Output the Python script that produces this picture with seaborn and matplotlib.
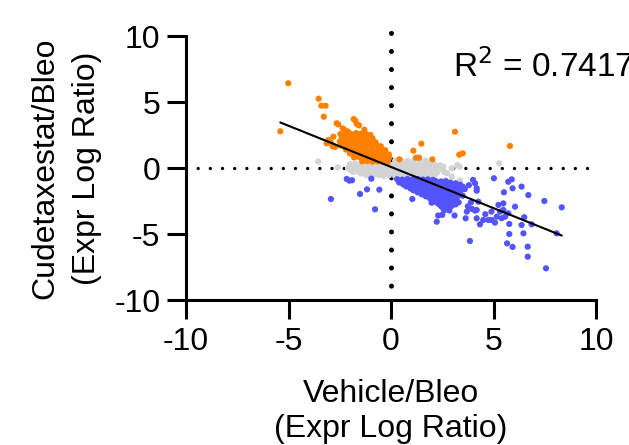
#!/usr/bin/env python3
"""Cudetaxestat/Bleo vs Vehicle/Bleo expression log ratio scatter."""

import matplotlib as mpl
mpl.use("Agg")
import matplotlib.pyplot as plt
import pandas as pd
import seaborn as sns

# (Vehicle/Bleo, Cudetaxestat/Bleo) log ratios
ORANGE = [
    (-5.40, 2.78), (-5.01, 6.42), (-3.53, 5.25), (-3.40, 4.72), (-3.19, 4.72), (-3.28, 3.89),
    (-2.65, 3.39), (-2.57, 3.30), (-1.82, 3.71), (-1.74, 3.58), (-1.56, 3.23), (-1.67, 3.33),
    (-2.35, 3.00), (-2.22, 2.85), (-2.10, 2.75), (-2.47, 2.58), (-2.36, 2.50), (-2.81, 2.37),
    (-3.06, 2.12), (-2.94, 1.95), (-2.85, 1.64), (-2.72, 1.60), (-3.14, 1.87), (-1.30, 2.90),
    (1.48, 1.84), (1.09, 1.31), (1.22, 0.78), (1.37, 0.78), (0.41, 0.66), (2.02, 0.66),
    (3.12, 2.75), (5.80, 1.67), (3.33, 1.01), (3.50, 1.11),
    # dense cluster
    (-2.20, 2.62), (-1.95, 2.58), (-1.70, 2.65), (-1.45, 2.60), (-1.20, 2.56), (-1.00, 2.50),
    (-2.40, 2.30), (-2.15, 2.33), (-1.90, 2.27), (-1.65, 2.32), (-1.40, 2.28), (-1.15, 2.31), (-0.90, 2.25),
    (-2.50, 2.00), (-2.25, 1.97), (-2.00, 2.03), (-1.75, 1.98), (-1.50, 2.02), (-1.25, 1.96), (-1.00, 2.01), (-0.75, 1.95),
    (-2.45, 1.70), (-2.20, 1.73), (-1.95, 1.68), (-1.70, 1.72), (-1.45, 1.69), (-1.20, 1.71), (-0.95, 1.67), (-0.70, 1.72), (-0.50, 1.65),
    (-2.20, 1.40), (-1.95, 1.43), (-1.70, 1.38), (-1.45, 1.41), (-1.20, 1.37), (-0.95, 1.42), (-0.70, 1.39), (-0.45, 1.41), (-0.28, 1.35),
    (-2.00, 1.10), (-1.75, 1.12), (-1.50, 1.08), (-1.25, 1.11), (-1.00, 1.09), (-0.75, 1.12), (-0.50, 1.07), (-0.30, 1.10), (-0.10, 1.02),
    (-1.80, 0.80), (-1.55, 0.82), (-1.30, 0.78), (-1.05, 0.81), (-0.80, 0.79), (-0.55, 0.82), (-0.30, 0.78), (-0.10, 0.75),
    (-1.40, 0.50), (-1.15, 0.52), (-0.90, 0.48), (-0.65, 0.51), (-0.40, 0.47), (-0.15, 0.45),
]

GREY = [
    (-3.55, 0.48), (-2.60, 0.05), (2.55, 0.10), (2.96, -0.02), (3.23, 0.23), (3.35, 0.10),
    (2.73, -0.40), (2.96, -0.66), (3.37, -0.95), (2.63, -0.95), (5.28, 0.35),
    # left cluster
    (-2.00, 0.30), (-1.75, 0.33), (-1.50, 0.28), (-1.25, 0.31), (-1.00, 0.29), (-0.75, 0.32), (-0.50, 0.28), (-0.25, 0.30), (-0.08, 0.27),
    (-1.88, 0.15), (-1.62, 0.17), (-1.38, 0.13), (-1.12, 0.16), (-0.88, 0.14), (-0.62, 0.17), (-0.38, 0.13), (-0.15, 0.15),
    (-2.10, 0.00), (-1.85, 0.02), (-1.60, -0.03), (-1.35, 0.01), (-1.10, -0.02), (-0.85, 0.03), (-0.60, -0.01), (-0.35, 0.02), (-0.10, -0.03),
    (-1.98, -0.15), (-1.72, -0.17), (-1.48, -0.13), (-1.22, -0.16), (-0.98, -0.14), (-0.72, -0.18), (-0.48, -0.15), (-0.22, -0.16),
    (-1.85, -0.30), (-1.60, -0.28), (-1.35, -0.32), (-1.10, -0.29), (-0.85, -0.31), (-0.60, -0.28), (-0.35, -0.33), (-0.10, -0.30),
    (-1.45, -0.43), (-1.05, -0.45), (-0.75, -0.42), (-0.48, -0.46), (-0.22, -0.44),
    (-1.20, -0.55), (-0.90, -0.58), (-0.60, -0.54), (-0.35, -0.60), (-0.10, -0.56),
    # right cluster
    (0.20, 0.55), (0.50, 0.58), (0.80, 0.53), (1.10, 0.57), (1.40, 0.52), (1.70, 0.56), (2.00, 0.50),
    (0.15, 0.25), (0.40, 0.28), (0.65, 0.23), (0.90, 0.27), (1.15, 0.24), (1.40, 0.26), (1.65, 0.22), (1.90, 0.27), (2.15, 0.24), (2.40, 0.20),
    (0.15, -0.05), (0.40, -0.02), (0.65, -0.07), (0.90, -0.03), (1.15, -0.06), (1.40, -0.02), (1.65, -0.05), (1.90, -0.08), (2.15, -0.04), (2.45, -0.06),
    (0.15, -0.35), (0.40, -0.33), (0.65, -0.37), (0.90, -0.34), (1.15, -0.36), (1.40, -0.33), (1.65, -0.38), (1.95, -0.35), (2.25, -0.37), (2.60, -0.30),
    (0.20, -0.60), (0.45, -0.62), (0.70, -0.58), (0.95, -0.61), (1.20, -0.63), (1.50, -0.60), (1.80, -0.64), (2.10, -0.66),
]

BLUE = [
    (-2.93, -2.35), (-2.16, -0.83), (-2.03, -0.96), (-1.90, -0.93), (-1.51, -1.97), (-1.17, -1.62),
    (-0.96, -0.81), (-0.57, -1.64), (-0.78, -3.13), (1.04, -2.35), (2.23, -4.07), (3.85, -5.53),
    (5.02, -0.78), (5.72, -1.04), (5.89, -0.86), (5.51, -1.84), (5.93, -1.54), (6.37, -1.41),
    (6.70, -2.05), (7.48, -2.50), (8.33, -2.98), (5.24, -2.80), (5.48, -2.68), (6.05, -2.93),
    (5.72, -3.43), (5.56, -3.69), (5.40, -3.81), (5.32, -3.31), (5.48, -3.18), (6.50, -3.73),
    (5.77, -4.24), (6.37, -4.32), (6.46, -4.95), (6.86, -4.27), (8.08, -4.95), (5.77, -5.00),
    (5.66, -5.71), (5.93, -5.98), (6.67, -5.96), (6.67, -6.72), (7.56, -7.60),
    (4.34, -4.27), (4.50, -3.94), (4.91, -3.94), (5.07, -4.14), (4.18, -3.81), (4.75, -3.94),
    (5.16, -3.69), (4.10, -3.23), (3.64, -3.81),
    (4.00, -0.90), (4.10, -1.16), (4.18, -1.54), (4.18, -1.72), (4.26, -2.55), (4.18, -3.18),
    (3.90, -2.60), (3.95, -3.10), (3.70, -3.30), (3.75, -2.90), (4.60, -3.50), (4.90, -3.30),
    (3.50, -2.10), (3.60, -1.60), (3.80, -1.30), (1.98, -2.63), (2.30, -3.60), (2.50, -3.55),
    (3.10, -3.60), (3.30, -2.60),
    # dense cluster
    (0.30, -0.85), (0.55, -0.88), (0.80, -0.83), (1.05, -0.87), (1.30, -0.84), (1.55, -0.88), (1.80, -0.86), (2.05, -0.90),
    (0.42, -0.97), (0.68, -0.99), (0.93, -0.96), (1.18, -0.98), (1.43, -1.00), (1.68, -0.97), (1.93, -1.01),
    (2.18, -0.99), (2.43, -1.02), (2.68, -1.00),
    (0.40, -1.10), (0.65, -1.13), (0.90, -1.08), (1.15, -1.12), (1.40, -1.09), (1.65, -1.13), (1.90, -1.10),
    (2.15, -1.12), (2.40, -1.08), (2.65, -1.14), (2.90, -1.11), (3.15, -1.16),
    (0.60, -1.25), (0.87, -1.27), (1.12, -1.23), (1.37, -1.26), (1.62, -1.24), (1.87, -1.28),
    (2.12, -1.25), (2.37, -1.22), (2.62, -1.27), (2.87, -1.25), (3.12, -1.29), (3.37, -1.26),
    (0.75, -1.40), (1.00, -1.43), (1.25, -1.38), (1.50, -1.42), (1.75, -1.39), (2.00, -1.44),
    (2.25, -1.40), (2.50, -1.37), (2.75, -1.42), (3.00, -1.40), (3.25, -1.45), (3.50, -1.41),
    (0.95, -1.55), (1.20, -1.58), (1.45, -1.53), (1.70, -1.56), (1.95, -1.54), (2.20, -1.57),
    (2.45, -1.55), (2.70, -1.52), (2.95, -1.57), (3.20, -1.55), (3.45, -1.58),
    (1.10, -1.70), (1.35, -1.73), (1.60, -1.68), (1.85, -1.72), (2.10, -1.69), (2.35, -1.73),
    (2.60, -1.70), (2.85, -1.67), (3.10, -1.72), (3.40, -1.70),
    (1.30, -1.85), (1.55, -1.88), (1.80, -1.84), (2.05, -1.86), (2.30, -1.83), (2.55, -1.87),
    (2.80, -1.85), (3.05, -1.88), (3.35, -1.84),
    (1.50, -2.00), (1.75, -2.03), (2.00, -1.98), (2.25, -2.02), (2.50, -1.99), (2.75, -2.03), (3.00, -2.00), (3.30, -2.04),
    (1.70, -2.15), (1.95, -2.17), (2.20, -2.13), (2.45, -2.16), (2.70, -2.14), (2.95, -2.18), (3.20, -2.15),
    (1.90, -2.30), (2.15, -2.33), (2.40, -2.28), (2.65, -2.32), (2.90, -2.29), (3.20, -2.31),
    (2.05, -2.45), (2.30, -2.47), (2.55, -2.43), (2.80, -2.46), (3.10, -2.44),
    (2.20, -2.60), (2.45, -2.63), (2.70, -2.58), (3.00, -2.62),
    (2.35, -2.75), (2.60, -2.77), (2.85, -2.73), (3.15, -2.76),
    (2.45, -2.90), (2.70, -2.93), (2.95, -2.88),
    (2.55, -3.05), (2.80, -3.07),
    (2.60, -3.20), (2.85, -3.22),
]

COLORS = {"grey": "#D3D3D3", "blue": "#5454FF", "orange": "#FF8000"}


def build_frame() -> pd.DataFrame:
    parts = []
    for name, pts in (("grey", GREY), ("blue", BLUE), ("orange", ORANGE)):
        part = pd.DataFrame(pts, columns=["vehicle", "cudetaxestat"])
        part["group"] = name
        parts.append(part)
    return pd.concat(parts, ignore_index=True)


def main() -> None:
    df = build_frame()

    sns.set_theme(style="ticks")
    mpl.rcParams.update({
        "font.family": ["Liberation Sans", "DejaVu Sans"],
        "axes.unicode_minus": False,
        "axes.linewidth": 2.2,
        "xtick.major.width": 2.2,
        "ytick.major.width": 2.2,
        "xtick.major.size": 13.5,
        "ytick.major.size": 13.5,
        "xtick.major.pad": 6,
        "ytick.major.pad": 5,
        "xtick.color": "black",
        "ytick.color": "black",
        "axes.edgecolor": "black",
        "text.color": "black",
        "axes.labelcolor": "black",
    })

    fig = plt.figure(figsize=(6.29, 4.45), dpi=100)
    ax = fig.add_axes([186 / 629, 1 - 300 / 445, 410 / 629, 264 / 445])

    ax.axhline(0, color="black", lw=2.4, ls=(0.15, (0.01, 3.64)), dash_capstyle="round", zorder=1)
    ax.axvline(0, ymax=1.015, color="black", lw=3.6, ls=(0.74, (0.01, 3.6)),
               dash_capstyle="round", zorder=1, clip_on=False)

    sns.scatterplot(data=df, x="vehicle", y="cudetaxestat", hue="group", palette=COLORS,
                    s=20, linewidth=0, legend=False, ax=ax, zorder=2)
    sns.regplot(data=df, x="vehicle", y="cudetaxestat", scatter=False, ci=None,
                color="black", line_kws={"lw": 1.5, "zorder": 3}, ax=ax)

    ax.set_xlim(-10, 10)
    ax.set_ylim(-10, 10)
    ax.set_xticks([-10, -5, 0, 5, 10])
    ax.set_yticks([-10, -5, 0, 5, 10])
    ax.tick_params(labelsize=23)
    sns.despine(ax=ax)
    for side in ("left", "bottom"):
        ax.spines[side].set_capstyle("projecting")

    ax.set_xlabel("Vehicle/Bleo\n(Expr Log Ratio)", fontsize=23, labelpad=16, linespacing=1.22)
    ax.set_ylabel("Cudetaxestat/Bleo\n(Expr Log Ratio)", fontsize=23, labelpad=8.5, linespacing=1.53)

    ax.text(3.02, 6.87, "R$^2$ = 0.7417", fontsize=24, ha="left", va="baseline",
            clip_on=False)

    fig.savefig("out.png", dpi=100, facecolor="white")
    plt.close(fig)


if __name__ == "__main__":
    main()
